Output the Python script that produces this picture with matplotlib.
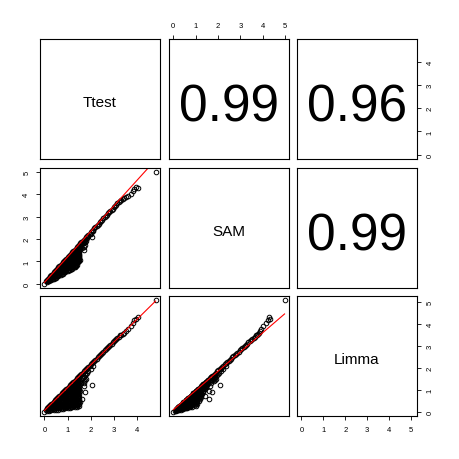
import matplotlib
matplotlib.use('Agg')
import matplotlib.pyplot as plt
import numpy as np

plt.rcParams['font.family'] = ['Liberation Sans', 'DejaVu Sans']

# nombres de las variables (diagonal)
var_names = ['Ttest', 'SAM', 'Limma']

# correlaciones del panel superior: (Ttest,SAM), (Ttest,Limma), (SAM,Limma)
cor_values = [0.99, 0.96, 0.99]

# recta roja de cada panel inferior: (SAM~Ttest), (Limma~Ttest), (Limma~SAM)
fit_slope = [1.14, 1.04, 0.88]
fit_intercept = [0.06, 0.05, 0.08]

# ticks de cada eje
ttest_ticks = [0, 1, 2, 3, 4]
sam_ticks = [0, 1, 2, 3, 4, 5]
limma_ticks = [0, 1, 2, 3, 4, 5]

# masa densa de valores bajos
mass_ttest = [
    0.1, 0.1,
    0.2, 0.2, 0.2,
    0.3, 0.3, 0.3,
    0.4, 0.4, 0.4, 0.4,
    0.5, 0.5, 0.5, 0.5, 0.5,
    0.6, 0.6, 0.6, 0.6, 0.6, 0.6,
    0.7, 0.7, 0.7, 0.7, 0.7, 0.7, 0.7,
    0.8, 0.8, 0.8, 0.8, 0.8, 0.8, 0.8,
    0.9, 0.9, 0.9, 0.9, 0.9, 0.9, 0.9, 0.9,
    1.0, 1.0, 1.0, 1.0, 1.0, 1.0, 1.0, 1.0, 1.0,
    1.1, 1.1, 1.1, 1.1, 1.1, 1.1, 1.1, 1.1, 1.1, 1.1,
    1.2, 1.2, 1.2, 1.2, 1.2, 1.2, 1.2, 1.2, 1.2, 1.2, 1.2,
    1.3, 1.3, 1.3, 1.3, 1.3, 1.3, 1.3, 1.3, 1.3, 1.3, 1.3,
    1.4, 1.4, 1.4, 1.4, 1.4, 1.4, 1.4, 1.4, 1.4, 1.4, 1.4, 1.4,
    1.5, 1.5, 1.5, 1.5, 1.5, 1.5, 1.5, 1.5, 1.5, 1.5, 1.5, 1.5, 1.5,
]
mass_sam = [
    0.11, 0.06,
    0.22, 0.17, 0.11,
    0.34, 0.25, 0.17,
    0.45, 0.37, 0.30, 0.22,
    0.56, 0.49, 0.42, 0.35, 0.28,
    0.67, 0.61, 0.54, 0.47, 0.40, 0.34,
    0.78, 0.72, 0.65, 0.59, 0.52, 0.46, 0.39,
    0.90, 0.82, 0.75, 0.67, 0.60, 0.52, 0.45,
    1.01, 0.94, 0.86, 0.79, 0.72, 0.65, 0.58, 0.51,
    1.12, 1.05, 0.98, 0.91, 0.84, 0.77, 0.70, 0.63, 0.56,
    1.23, 1.16, 1.10, 1.03, 0.96, 0.89, 0.82, 0.75, 0.69, 0.62,
    1.34, 1.28, 1.21, 1.14, 1.08, 1.01, 0.94, 0.87, 0.81, 0.74, 0.67,
    1.46, 1.38, 1.31, 1.24, 1.17, 1.09, 1.02, 0.95, 0.88, 0.80, 0.73,
    1.57, 1.50, 1.44, 1.37, 1.31, 1.24, 1.18, 1.11, 1.05, 0.98, 0.92, 0.85,
    1.68, 1.63, 1.57, 1.52, 1.46, 1.41, 1.35, 1.30, 1.24, 1.19, 1.13, 1.08, 1.02,
]
mass_limma = [
    0.10, 0.02,
    0.21, 0.12, 0.03,
    0.31, 0.18, 0.05,
    0.42, 0.30, 0.18, 0.06,
    0.52, 0.41, 0.30, 0.19, 0.08,
    0.62, 0.52, 0.41, 0.31, 0.20, 0.09,
    0.73, 0.63, 0.52, 0.42, 0.32, 0.21, 0.11,
    0.83, 0.71, 0.60, 0.48, 0.36, 0.24, 0.13,
    0.94, 0.82, 0.71, 0.60, 0.48, 0.37, 0.26, 0.14,
    1.04, 0.93, 0.82, 0.71, 0.60, 0.49, 0.38, 0.27, 0.16,
    1.14, 1.04, 0.93, 0.82, 0.71, 0.61, 0.50, 0.39, 0.28, 0.17,
    1.25, 1.14, 1.04, 0.93, 0.82, 0.72, 0.61, 0.51, 0.40, 0.30, 0.19,
    1.35, 1.24, 1.12, 1.01, 0.89, 0.78, 0.66, 0.55, 0.43, 0.32, 0.21,
    1.46, 1.34, 1.23, 1.12, 1.01, 0.89, 0.78, 0.67, 0.56, 0.45, 0.33, 0.22,
    1.56, 1.45, 1.34, 1.23, 1.12, 1.01, 0.90, 0.79, 0.68, 0.57, 0.46, 0.35, 0.24,
]

# segunda capa de la masa, entre las filas anteriores
mass2_ttest = [
    0.15, 0.15,
    0.25, 0.25, 0.25,
    0.35, 0.35, 0.35,
    0.45, 0.45, 0.45, 0.45,
    0.55, 0.55, 0.55, 0.55, 0.55,
    0.65, 0.65, 0.65, 0.65, 0.65, 0.65,
    0.75, 0.75, 0.75, 0.75, 0.75, 0.75, 0.75,
    0.85, 0.85, 0.85, 0.85, 0.85, 0.85, 0.85,
    0.95, 0.95, 0.95, 0.95, 0.95, 0.95, 0.95, 0.95,
    1.05, 1.05, 1.05, 1.05, 1.05, 1.05, 1.05, 1.05, 1.05,
    1.15, 1.15, 1.15, 1.15, 1.15, 1.15, 1.15, 1.15, 1.15, 1.15,
    1.25, 1.25, 1.25, 1.25, 1.25, 1.25, 1.25, 1.25, 1.25, 1.25, 1.25,
    1.35, 1.35, 1.35, 1.35, 1.35, 1.35, 1.35, 1.35, 1.35, 1.35, 1.35,
    1.45, 1.45, 1.45, 1.45, 1.45, 1.45, 1.45, 1.45, 1.45, 1.45, 1.45, 1.45,
]
mass2_sam = [
    0.15, 0.11,
    0.26, 0.21, 0.16,
    0.36, 0.29, 0.23,
    0.47, 0.41, 0.35, 0.28,
    0.59, 0.52, 0.46, 0.40, 0.34,
    0.70, 0.64, 0.58, 0.52, 0.46, 0.40,
    0.81, 0.75, 0.69, 0.63, 0.57, 0.51, 0.45,
    0.92, 0.85, 0.78, 0.71, 0.65, 0.58, 0.51,
    1.03, 0.96, 0.90, 0.83, 0.77, 0.70, 0.63, 0.57,
    1.14, 1.08, 1.01, 0.95, 0.88, 0.82, 0.75, 0.69, 0.62,
    1.26, 1.19, 1.13, 1.06, 1.00, 0.93, 0.87, 0.81, 0.74, 0.68,
    1.37, 1.31, 1.24, 1.18, 1.12, 1.05, 0.99, 0.92, 0.86, 0.80, 0.73,
    1.48, 1.41, 1.34, 1.27, 1.20, 1.14, 1.07, 1.00, 0.93, 0.86, 0.79,
    1.62, 1.56, 1.50, 1.44, 1.38, 1.32, 1.26, 1.20, 1.14, 1.08, 1.02, 0.96,
]
mass2_limma = [
    0.12, 0.06,
    0.22, 0.15, 0.08,
    0.31, 0.21, 0.11,
    0.42, 0.32, 0.22, 0.12,
    0.52, 0.43, 0.33, 0.23, 0.14,
    0.63, 0.53, 0.44, 0.34, 0.25, 0.15,
    0.73, 0.64, 0.54, 0.45, 0.35, 0.26, 0.17,
    0.83, 0.72, 0.62, 0.51, 0.40, 0.29, 0.19,
    0.94, 0.83, 0.73, 0.62, 0.52, 0.41, 0.31, 0.20,
    1.04, 0.94, 0.83, 0.73, 0.63, 0.53, 0.42, 0.32, 0.22,
    1.15, 1.04, 0.94, 0.84, 0.74, 0.64, 0.54, 0.44, 0.33, 0.23,
    1.25, 1.15, 1.05, 0.95, 0.85, 0.75, 0.65, 0.55, 0.45, 0.35, 0.25,
    1.35, 1.24, 1.13, 1.03, 0.92, 0.81, 0.70, 0.59, 0.48, 0.38, 0.27,
    1.45, 1.35, 1.24, 1.14, 1.03, 0.92, 0.82, 0.71, 0.60, 0.50, 0.39, 0.28,
]

# banda diagonal
band_ttest = [0.00, 0.05, 0.10, 0.15, 0.20, 0.25, 0.30, 0.35, 0.40, 0.45, 0.50,
              0.55, 0.60, 0.65, 0.70, 0.75, 0.80, 0.85, 0.90, 0.95, 1.00,
              1.05, 1.10, 1.15, 1.20, 1.25, 1.30, 1.35, 1.40, 1.45, 1.50,
              1.55, 1.60, 1.65, 1.70, 1.75, 1.80, 1.85, 1.90, 1.95, 2.00,
              2.05, 2.10, 2.15, 2.20, 2.25, 2.30, 2.35, 2.40, 2.45, 2.50,
              2.55, 2.60, 2.65, 2.70, 2.75, 2.80, 2.85, 2.90, 2.95, 3.00,
              3.05, 3.10, 3.15, 3.20, 3.25]
band_sam = [0.01, 0.12, 0.17, 0.23, 0.28, 0.34, 0.40, 0.45, 0.51, 0.56, 0.62,
            0.68, 0.73, 0.79, 0.84, 0.90, 0.96, 1.01, 1.07, 1.12, 1.18,
            1.24, 1.29, 1.35, 1.40, 1.46, 1.52, 1.57, 1.63, 1.68, 1.74,
            1.80, 1.85, 1.91, 1.96, 2.02, 2.08, 2.13, 2.19, 2.24, 2.30,
            2.36, 2.41, 2.47, 2.52, 2.58, 2.64, 2.69, 2.75, 2.80, 2.86,
            2.92, 2.97, 3.03, 3.08, 3.14, 3.20, 3.25, 3.31, 3.36, 3.42,
            3.48, 3.53, 3.59, 3.64, 3.70]
band_limma = [0.00, 0.08, 0.14, 0.19, 0.24, 0.30, 0.35, 0.40, 0.45, 0.51, 0.56,
              0.61, 0.67, 0.72, 0.77, 0.83, 0.88, 0.93, 0.98, 1.04, 1.09,
              1.14, 1.20, 1.25, 1.30, 1.36, 1.41, 1.46, 1.51, 1.57, 1.62,
              1.67, 1.73, 1.78, 1.83, 1.89, 1.94, 1.99, 2.04, 2.10, 2.15,
              2.20, 2.26, 2.31, 2.36, 2.42, 2.47, 2.52, 2.57, 2.63, 2.68,
              2.73, 2.79, 2.84, 2.89, 2.95, 3.00, 3.05, 3.10, 3.16, 3.21,
              3.26, 3.32, 3.37, 3.42, 3.48]

# hombro bajo la banda
shoulder_ttest = [1.55, 1.60, 1.65, 1.70, 1.75, 1.80, 1.85, 1.90, 2.00, 2.10, 1.60, 1.70, 1.80]
shoulder_sam = [1.70, 1.76, 1.82, 1.88, 1.94, 2.00, 2.06, 2.12, 2.24, 2.36, 1.70, 1.80, 1.92]
shoulder_limma = [1.40, 1.47, 1.52, 1.58, 1.65, 1.70, 1.77, 1.83, 1.95, 2.06, 1.30, 1.38, 1.50]

# puntos sueltos
out_ttest = [1.76, 2.06, 1.69, 1.54, 1.76, 1.47, 1.62, 1.54, 1.32, 1.69]
out_sam = [1.88, 2.08, 1.65, 1.58, 1.73, 1.43, 1.58, 1.05, 0.75, 1.50]
out_limma = [1.44, 1.21, 1.16, 0.93, 0.90, 0.70, 0.58, 0.45, 0.30, 1.30]

# valores altos
top_ttest = [3.30, 3.38, 3.45, 3.52, 3.60, 3.74, 3.82, 3.89, 3.96, 4.04, 4.80]
top_sam = [3.72, 3.77, 3.84, 3.86, 3.90, 4.00, 4.15, 4.22, 4.30, 4.27, 4.97]
top_limma = [3.50, 3.53, 3.60, 3.68, 3.76, 3.91, 4.05, 4.17, 4.22, 4.30, 5.07]

ttest = np.array(mass_ttest + mass2_ttest + band_ttest + shoulder_ttest + out_ttest + top_ttest)
sam = np.array(mass_sam + mass2_sam + band_sam + shoulder_sam + out_sam + top_sam)
limma = np.array(mass_limma + mass2_limma + band_limma + shoulder_limma + out_limma + top_limma)

datos = [ttest, sam, limma]
ticks = [ttest_ticks, sam_ticks, limma_ticks]

# limites con 4% de margen (como R)
lims = []
for d in datos:
    lo, hi = d.min(), d.max()
    pad = 0.04 * (hi - lo)
    lims.append((lo - pad, hi + pad))

W = 460.0
pos = [40, 169, 297]
size = 120

fig = plt.figure(figsize=(4.6, 4.6), dpi=100)

lower_k = {(1, 0): 0, (2, 0): 1, (2, 1): 2}
upper_k = {(0, 1): 0, (0, 2): 1, (1, 2): 2}

for i in range(3):
    for j in range(3):
        ax = fig.add_axes([pos[j] / W, 1 - (pos[i] + size) / W, size / W, size / W])
        ax.set_xlim(lims[j])
        ax.set_ylim(lims[i])
        for s in ax.spines.values():
            s.set_linewidth(0.8)
            s.set_color('black')
        ax.set_xticks([])
        ax.set_yticks([])

        if i == j:
            ax.text(0.5, 0.44, var_names[i], transform=ax.transAxes,
                    ha='center', va='baseline', fontsize=11)
        elif i < j:
            k = upper_k[(i, j)]
            ax.text(0.5, 0.32, '%.2f' % cor_values[k], transform=ax.transAxes,
                    ha='center', va='baseline', fontsize=37)
        else:
            k = lower_k[(i, j)]
            x = datos[j]
            y = datos[i]
            ax.plot(x, y, 'o', mfc='none', mec='black', ms=3.3, mew=0.7)
            xs = np.array([x.min(), x.max()])
            ax.plot(xs, fit_intercept[k] + fit_slope[k] * xs, color='red', lw=0.8)

        # ejes alternados como en pairs()
        tp = dict(labelsize=5.5, length=3, width=0.6, pad=4)
        if i == 2 and j in (0, 2):
            ax.set_xticks(ticks[j])
            ax.set_xticklabels([str(t) for t in ticks[j]])
            ax.tick_params(axis='x', bottom=True, labelbottom=True, **tp)
        if i == 0 and j == 1:
            ax.set_xticks(ticks[j])
            ax.set_xticklabels([str(t) for t in ticks[j]])
            ax.tick_params(axis='x', bottom=False, labelbottom=False,
                           top=True, labeltop=True, **tp)
        if j == 0 and i == 1:
            ax.set_yticks(ticks[i])
            ax.set_yticklabels([str(t) for t in ticks[i]], rotation=90, va='center')
            ax.tick_params(axis='y', left=True, labelleft=True, **tp)
        if j == 2 and i in (0, 2):
            ax.set_yticks(ticks[i])
            ax.set_yticklabels([str(t) for t in ticks[i]], rotation=90, va='center')
            ax.tick_params(axis='y', left=False, labelleft=False,
                           right=True, labelright=True, **tp)

plt.savefig('out.png', dpi=100)
